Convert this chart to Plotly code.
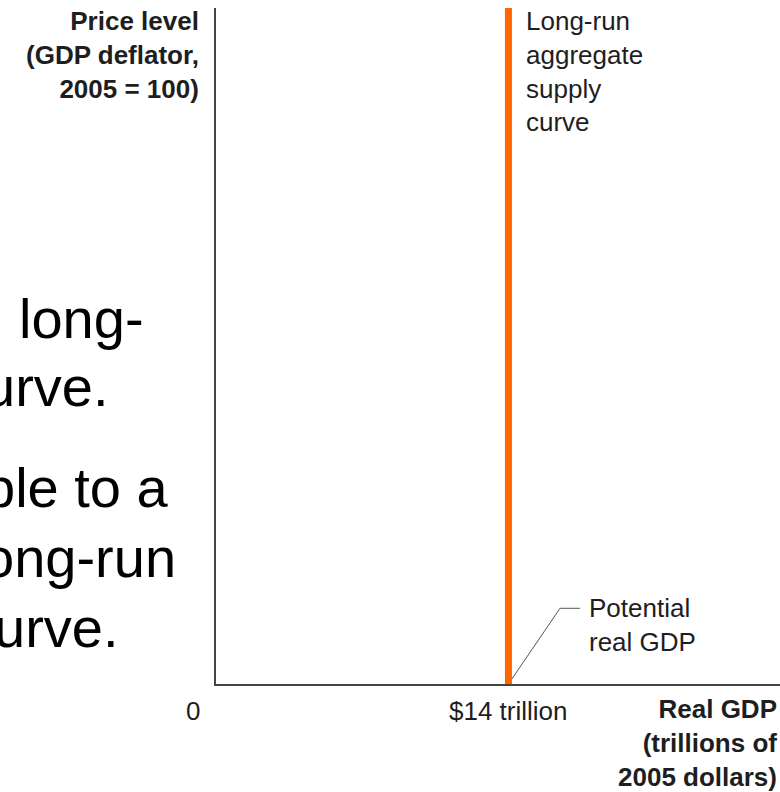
import plotly.graph_objects as go

# Long-run aggregate supply: vertical at potential real GDP
potential_gdp = 14            # trillions of 2005 dollars
price_range = [0, 100]        # price level span covered by the LRAS line
x_range = [0, 27]             # real GDP axis extent
x_tick_values = [0, 14]
x_tick_labels = ["0", "$14 trillion"]

# Callout leader for "Potential real GDP" (data coordinates)
leader_x = [potential_gdp, 16.47, 17.43]
leader_y = [0, 11.2, 11.2]

# Visible fragments of slide body text to the left of the chart
body_lines = ["long-", "urve.", "ple to a", "ong-run", "urve."]

W, H = 780, 792
L, R, T, B = 216, 0, 8, 108
PW, PH = W - L - R, H - T - B


def px(xp):
    return (xp - L) / PW


def py(yp):
    return (H - B - yp) / PH


FONT = "Liberation Sans, Arial, Helvetica, sans-serif"
TXT = "#1e1e1e"

fig = go.Figure()

fig.add_trace(go.Scatter(
    x=leader_x, y=leader_y, mode="lines",
    line=dict(color="#555555", width=1), hoverinfo="skip", showlegend=False))

fig.add_trace(go.Scatter(
    x=[potential_gdp, potential_gdp], y=price_range, mode="lines",
    line=dict(color="#ff6600", width=7), hoverinfo="skip", showlegend=False))

ann = []

# axis tick labels
ann.append(dict(x=px(193), y=py(711), xref="paper", yref="paper",
                text=x_tick_labels[0], showarrow=False,
                font=dict(size=26, color=TXT, family=FONT),
                xanchor="center", yanchor="middle"))
ann.append(dict(x=x_tick_values[1], y=py(711), xref="x", yref="paper",
                text=x_tick_labels[1], showarrow=False,
                font=dict(size=26, color=TXT, family=FONT),
                xanchor="center", yanchor="middle"))

# axis titles
ann.append(dict(x=px(201), y=py(4), xref="paper", yref="paper",
                text="<b>Price level<br>(GDP deflator,<br>2005 = 100)</b>",
                showarrow=False, align="right",
                font=dict(size=26, color=TXT, family=FONT),
                xanchor="right", yanchor="top"))
ann.append(dict(x=px(779), y=py(692), xref="paper", yref="paper",
                text="<b>Real GDP<br>(trillions of<br>2005 dollars)</b>",
                showarrow=False, align="right",
                font=dict(size=26, color=TXT, family=FONT),
                xanchor="right", yanchor="top"))

# curve labels
ann.append(dict(x=px(524), y=py(4), xref="paper", yref="paper",
                text="Long-run<br>aggregate<br>supply<br>curve",
                showarrow=False, align="left",
                font=dict(size=26, color=TXT, family=FONT),
                xanchor="left", yanchor="top"))
ann.append(dict(x=px(587), y=py(591), xref="paper", yref="paper",
                text="Potential<br>real GDP",
                showarrow=False, align="left",
                font=dict(size=26, color=TXT, family=FONT),
                xanchor="left", yanchor="top"))

# slide body text fragments
body_right = [146, 111, 171, 178, 121]
body_center = [318, 386, 487, 557, 627]
for t, xr, yc in zip(body_lines, body_right, body_center):
    ann.append(dict(x=px(xr), y=py(yc), xref="paper", yref="paper",
                    text=t, showarrow=False,
                    font=dict(size=56, color="#000000", family=FONT),
                    xanchor="right", yanchor="middle"))

fig.update_layout(
    width=W, height=H,
    margin=dict(l=L, r=R, t=T, b=B, pad=0),
    paper_bgcolor="white", plot_bgcolor="white",
    showlegend=False,
    annotations=ann,
    xaxis=dict(range=x_range, showgrid=False, zeroline=False,
               showline=True, linecolor="#444444", linewidth=2,
               showticklabels=False, ticks=""),
    yaxis=dict(range=price_range, showgrid=False, zeroline=False,
               showline=True, linecolor="#444444", linewidth=2,
               showticklabels=False, ticks=""),
)

fig.write_html("out.html")
